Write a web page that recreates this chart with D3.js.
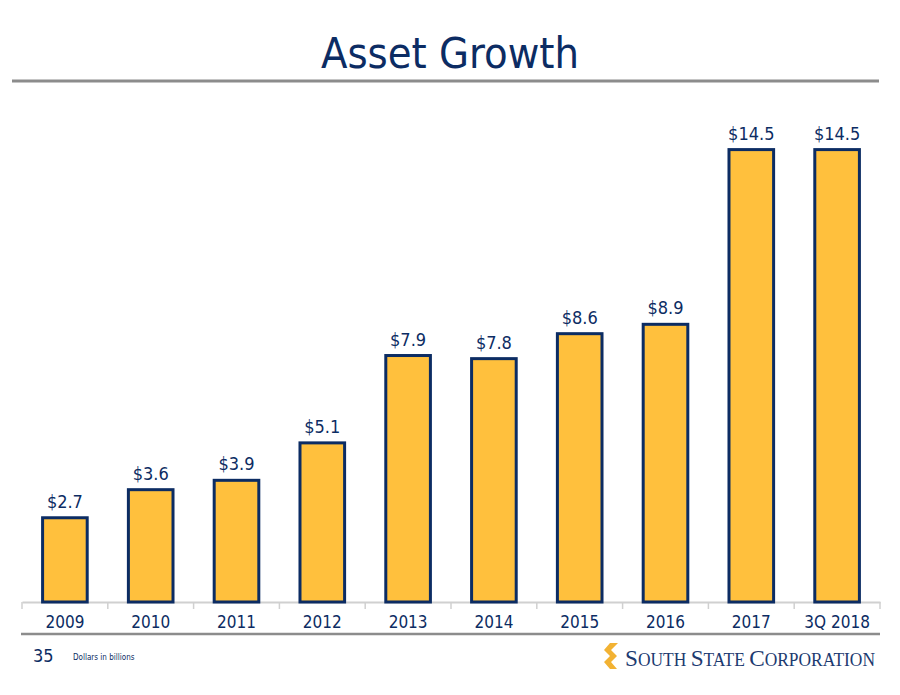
<!DOCTYPE html>
<html><head><meta charset="utf-8">
<script src="https://cdn.jsdelivr.net/npm/d3@7"></script>
<style>body{margin:0;background:#fff}svg{display:block}</style>
</head><body>
<svg id="c" width="900" height="695"></svg>
<script>
const categories = ["2009","2010","2011","2012","2013","2014","2015","2016","2017","3Q 2018"];
const values = [2.7,3.6,3.9,5.1,7.9,7.8,8.6,8.9,14.5,14.5];
const labels = ["$2.7","$3.6","$3.9","$5.1","$7.9","$7.8","$8.6","$8.9","$14.5","$14.5"];

const navy = "#0c2c63", gold = "#FFC03D";
const svg = d3.select("#c");
const font = "Tahoma, 'DejaVu Sans Condensed', 'DejaVu Sans', sans-serif";

// title
svg.append("text").attr("x",450).attr("y",68).attr("text-anchor","middle")
  .attr("font-family",font).attr("font-size",42).attr("fill",navy)
  .attr("textLength",258).attr("lengthAdjust","spacingAndGlyphs").text("Asset Growth");
svg.append("line").attr("x1",12).attr("x2",879).attr("y1",81).attr("y2",81)
  .attr("stroke","#8c8c8c").attr("stroke-width",3);

const x = d3.scaleBand().domain(categories).range([22,880]).paddingInner(0.48).paddingOuter(0.24);
const y = d3.scaleLinear().domain([0,16]).range([602,602-16*31.2]);

// axis
const xAxis = d3.axisBottom(x).tickSize(0).tickFormat(d=>d);
const g = svg.append("g").attr("transform","translate(0,602)").call(xAxis);
g.select(".domain").attr("stroke","#d0d0d0").attr("stroke-width",2);
g.selectAll("text").attr("font-family",font).attr("font-size",17).attr("fill",navy).attr("dy",0).attr("y",26);
// separator ticks between categories
const bounds = d3.range(categories.length+1).map(i=>22+i*(858/categories.length));
svg.append("g").selectAll("line").data(bounds).join("line")
  .attr("x1",d=>d).attr("x2",d=>d).attr("y1",602).attr("y2",609)
  .attr("stroke","#d0d0d0").attr("stroke-width",1.5);

// bars
svg.append("g").selectAll("rect").data(values).join("rect")
  .attr("x",(d,i)=>x(categories[i])).attr("width",x.bandwidth())
  .attr("y",d=>y(d)).attr("height",d=>y(0)-y(d))
  .attr("fill",gold).attr("stroke",navy).attr("stroke-width",3);

// value labels
svg.append("g").selectAll("text").data(values).join("text")
  .attr("x",(d,i)=>x(categories[i])+x.bandwidth()/2).attr("y",d=>y(d)-10)
  .attr("text-anchor","middle").attr("font-family",font).attr("font-size",18).attr("fill",navy)
  .text((d,i)=>labels[i]);

// footer
svg.append("line").attr("x1",21).attr("x2",880).attr("y1",634).attr("y2",634)
  .attr("stroke","#8c8c8c").attr("stroke-width",2.5);
svg.append("text").attr("x",33).attr("y",662).attr("font-family",font).attr("font-size",18).attr("fill",navy).text("35");
svg.append("text").attr("x",73).attr("y",660).attr("font-family",font).attr("font-size",8).attr("fill",navy).text("Dollars in billions");

// logo
const lg = svg.append("g").attr("transform","translate(603,643)");
lg.append("path").attr("d","M5,0 L13,0 L19,7 L13,13 L19,19 L13,26 L6,26 L12,19 L6,13 L12,7 Z").attr("fill","#f2b233")
  .attr("transform","scale(-1,1) translate(-20,0)");
const lt = svg.append("text").attr("x",625).attr("y",666).attr("font-family","'Liberation Serif', 'DejaVu Serif', serif").attr("fill","#1c3a70")
  .attr("textLength",250).attr("lengthAdjust","spacingAndGlyphs");
[["S",24],["OUTH ",18],["S",24],["TATE ",18],["C",24],["ORPORATION",18]].forEach(([t,s])=>{
  lt.append("tspan").attr("font-size",s).text(t);
});
</script>
</body></html>
